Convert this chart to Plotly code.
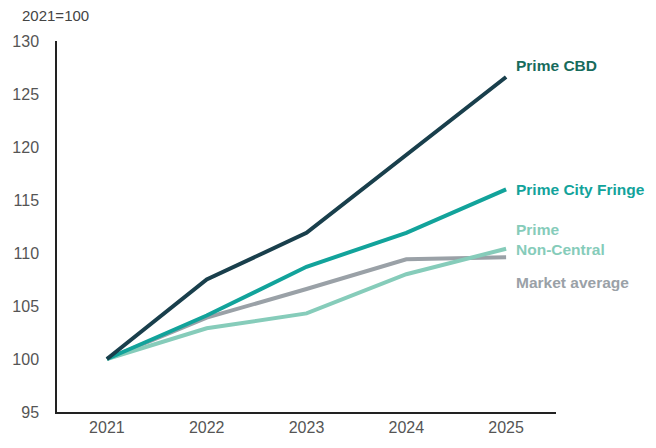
import plotly.graph_objects as go

years = ["2021", "2022", "2023", "2024", "2025"]
prime_cbd = [100, 107.5, 111.9, 119.2, 126.6]
prime_city_fringe = [100, 104.1, 108.7, 111.9, 116.0]
prime_non_central = [100, 102.9, 104.3, 108.0, 110.4]
market_average = [100, 103.9, 106.6, 109.4, 109.6]

FONT = "Liberation Sans Narrow, Liberation Sans, Arial, sans-serif"

series = [
    ("Market average", market_average, "#9aa1a7"),
    ("Prime Non-Central", prime_non_central, "#86ccba"),
    ("Prime City Fringe", prime_city_fringe, "#12a39b"),
    ("Prime CBD", prime_cbd, "#193f4c"),
]

fig = go.Figure()
for name, vals, col in series:
    fig.add_trace(go.Scatter(x=years, y=vals, mode="lines", name=name,
                             line=dict(color=col, width=4)))

labels = [
    ("Prime CBD", 127.7, "#176b5c"),
    ("Prime City Fringe", 116.0, "#12a39b"),
    ("Prime<br>Non-Central", 111.3, "#86ccba"),
    ("Market average", 107.2, "#9aa1a7"),
]
for text, yv, col in labels:
    fig.add_annotation(x=4.08, y=yv, xref="x", yref="y", text="<b>" + text + "</b>",
                       showarrow=False, xanchor="left", yanchor="middle", align="left",
                       font=dict(family=FONT, size=15.5, color=col))

fig.add_annotation(x=0, y=1, xref="paper", yref="paper", text="2021=100",
                   showarrow=False, xanchor="left", yanchor="middle", xshift=-37, yshift=26,
                   font=dict(family=FONT, size=15, color="#444"))

fig.update_layout(
    width=656, height=448,
    margin=dict(l=53, r=100, t=41, b=29),
    plot_bgcolor="white", paper_bgcolor="white",
    showlegend=False,
    font=dict(family=FONT, size=16, color="#555"),
    xaxis=dict(type="category", range=[-0.5, 4.5], showgrid=False, showline=True,
               linecolor="#222", linewidth=1.5, ticks="", tickfont=dict(size=16, color="#555")),
    yaxis=dict(range=[95, 130], dtick=5, showgrid=False, showline=True, zeroline=False,
               linecolor="#222", linewidth=1.5, ticks="", ticklabelstandoff=13,
               tickfont=dict(size=16, color="#555")),
)

fig.write_html("out.html")
